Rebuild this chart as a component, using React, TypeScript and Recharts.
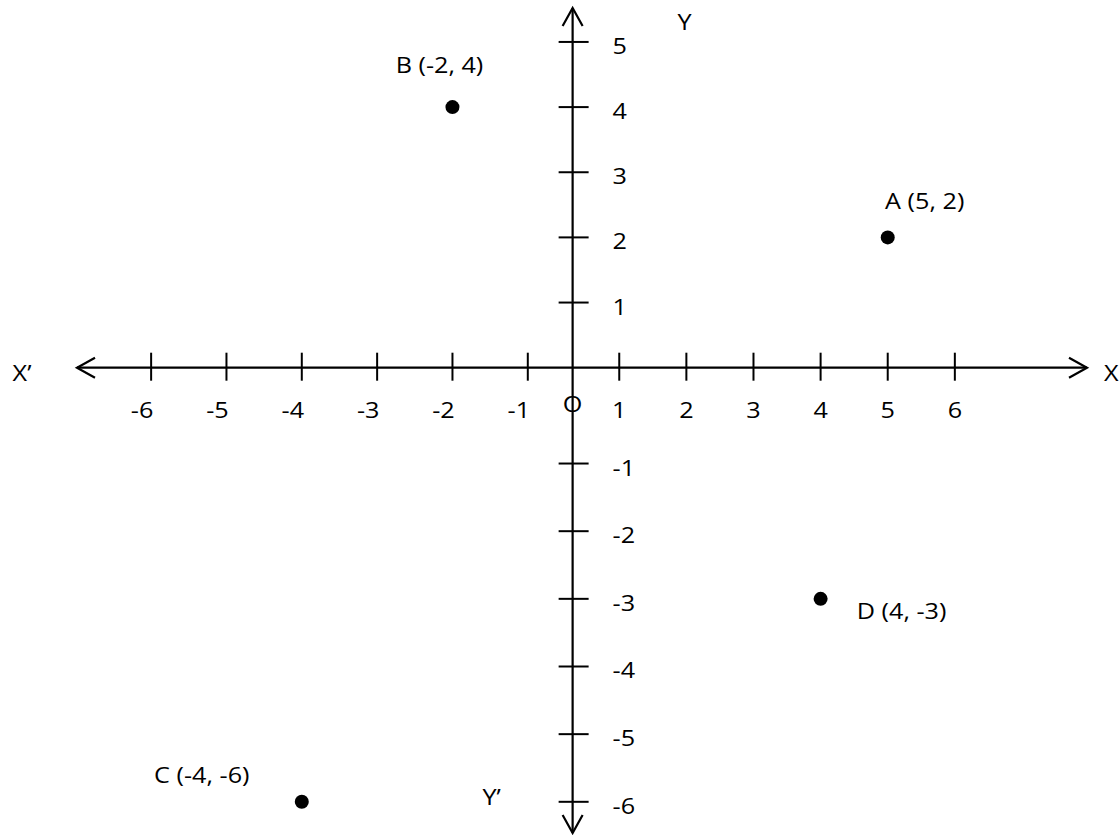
import { ScatterChart, Scatter, XAxis, YAxis, ReferenceLine, ReferenceDot } from 'recharts';

// tick values on each half of the axes
const xTicksNeg = [-6, -5, -4, -3, -2, -1];
const xTicksPos = [1, 2, 3, 4, 5, 6];
const yTicksPos = [1, 2, 3, 4, 5];
const yTicksNeg = [-1, -2, -3, -4, -5, -6];

// plotted points
const pointNames = ['A', 'B', 'C', 'D'];
const pointX = [5, -2, -4, 4];
const pointY = [2, 4, -6, -3];

// axis captions
const xAxisNames = ['X’', 'X'];
const yAxisNames = ['Y', 'Y’'];
const originName = 'O';

// the drawing is hand-spaced, so each half of an axis gets its own linear scale
const DOMAIN_XL = [-6.984, 6.423];
const DOMAIN_XR = [-7.079, 7.969];
const DOMAIN_X0 = [-7.4, 7.68];
const DOMAIN_YT = [-7.142, 5.521];
const DOMAIN_YB = [-6.461, 5.733];

const FONT = '"Open Sans", "Noto Sans", sans-serif';
const INK = '#000';

const labelOffset: Record<string, [number, number]> = {
  A: [37, -28],
  B: [-13, -34],
  C: [-100, -19],
  D: [81, 20],
};

function Label({ x, y, text, anchor = 'middle' }: { x: number; y: number; text: string; anchor?: string }) {
  return (
    <text
      transform={`translate(${x} ${y}) scale(1.2 1)`}
      textAnchor={anchor as any}
      fontFamily={FONT}
      fontSize={21}
      fill={INK}
    >
      {text}
    </text>
  );
}

const XTick = ({ cx, cy, payload }: any) => (
  <g>
    <line x1={cx} y1={cy - 15} x2={cx} y2={cy + 13} stroke={INK} strokeWidth={2} />
    <Label x={cx + (payload.x < 0 ? -9 : 0)} y={cy + 50} text={String(payload.x)} />
  </g>
);

const YTick = ({ cx, cy, payload }: any) => (
  <g>
    <line x1={cx - 14} y1={cy} x2={cx + 16} y2={cy} stroke={INK} strokeWidth={2} />
    <Label x={cx + 40} y={cy + 12} text={String(payload.y)} anchor="start" />
  </g>
);

const PointDot = ({ cx, cy, payload }: any) => {
  const [dx, dy] = labelOffset[payload.name];
  return (
    <g>
      <circle cx={cx} cy={cy} r={7} fill={INK} />
      <Label x={cx + dx} y={cy + dy} text={`${payload.name} (${payload.x}, ${payload.y})`} />
    </g>
  );
};

const HorizontalAxis = ({ x1, x2, y1 }: any) => {
  const l = Math.min(x1, x2);
  const r = Math.max(x1, x2);
  const y = y1;
  return (
    <g>
      <line x1={l} y1={y} x2={r} y2={y} stroke={INK} strokeWidth={2.2} />
      <polyline points={`${l + 18},${y - 10} ${l},${y} ${l + 18},${y + 10}`} fill="none" stroke={INK} strokeWidth={2.2} />
      <polyline points={`${r - 18},${y - 10} ${r},${y} ${r - 18},${y + 10}`} fill="none" stroke={INK} strokeWidth={2.2} />
      <Label x={l - 55} y={y + 13} text={xAxisNames[0]} />
      <Label x={r + 17} y={y + 13} text={xAxisNames[1]} anchor="start" />
    </g>
  );
};

const VerticalAxis = ({ x1, y1, y2 }: any) => {
  const t = Math.min(y1, y2);
  const b = Math.max(y1, y2);
  const x = x1;
  return (
    <g>
      <line x1={x} y1={t} x2={x} y2={b} stroke={INK} strokeWidth={2.2} />
      <polyline points={`${x - 10},${t + 18} ${x},${t} ${x + 10},${t + 18}`} fill="none" stroke={INK} strokeWidth={2.2} />
      <polyline points={`${x - 10},${b - 18} ${x},${b} ${x + 10},${b - 18}`} fill="none" stroke={INK} strokeWidth={2.2} />
      <Label x={x + 112} y={t + 22} text={yAxisNames[0]} />
      <Label x={x - 81} y={b - 28} text={yAxisNames[1]} />
    </g>
  );
};

const OriginMark = ({ cx, cy }: any) => <Label x={cx} y={cy + 44} text={originName} />;

const points = pointNames.map((name, i) => ({ name, x: pointX[i], y: pointY[i] }));
const quadrants = [
  { xId: 'xr', yId: 'yt', pts: points.filter(p => p.x >= 0 && p.y >= 0) },
  { xId: 'xl', yId: 'yt', pts: points.filter(p => p.x < 0 && p.y >= 0) },
  { xId: 'xl', yId: 'yb', pts: points.filter(p => p.x < 0 && p.y < 0) },
  { xId: 'xr', yId: 'yb', pts: points.filter(p => p.x >= 0 && p.y < 0) },
];

export default function App() {
  return (
    <div style={{ position: 'absolute', left: 0, top: 0, width: 1120, height: 835, background: '#fff' }}>
      <ScatterChart width={1120} height={835} margin={{ top: 8, right: 33, bottom: 2, left: 77 }}>
        <XAxis xAxisId="xl" type="number" dataKey="x" domain={DOMAIN_XL} hide />
        <XAxis xAxisId="xr" type="number" dataKey="x" domain={DOMAIN_XR} hide />
        <XAxis xAxisId="x0" type="number" dataKey="x" domain={DOMAIN_X0} hide />
        <YAxis yAxisId="yt" type="number" dataKey="y" domain={DOMAIN_YT} hide />
        <YAxis yAxisId="yb" type="number" dataKey="y" domain={DOMAIN_YB} hide />

        <ReferenceLine xAxisId="x0" yAxisId="yt" y={0} shape={HorizontalAxis} />
        <ReferenceLine xAxisId="x0" yAxisId="yt" x={0} shape={VerticalAxis} />
        <ReferenceDot xAxisId="x0" yAxisId="yt" x={0} y={0} shape={OriginMark} />

        <Scatter xAxisId="xl" yAxisId="yt" data={xTicksNeg.map(v => ({ x: v, y: 0 }))} shape={XTick} isAnimationActive={false} />
        <Scatter xAxisId="xr" yAxisId="yt" data={xTicksPos.map(v => ({ x: v, y: 0 }))} shape={XTick} isAnimationActive={false} />
        <Scatter xAxisId="x0" yAxisId="yt" data={yTicksPos.map(v => ({ x: 0, y: v }))} shape={YTick} isAnimationActive={false} />
        <Scatter xAxisId="x0" yAxisId="yb" data={yTicksNeg.map(v => ({ x: 0, y: v }))} shape={YTick} isAnimationActive={false} />

        {quadrants.map(q => (
          <Scatter
            key={q.xId + q.yId}
            xAxisId={q.xId}
            yAxisId={q.yId}
            data={q.pts}
            shape={PointDot}
            isAnimationActive={false}
          />
        ))}
      </ScatterChart>
    </div>
  );
}
